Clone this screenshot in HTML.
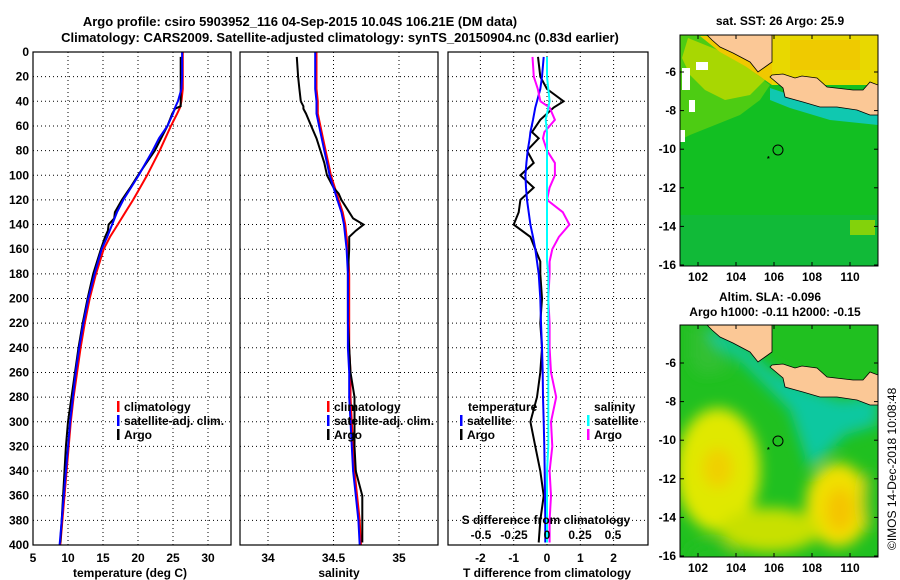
<!DOCTYPE html>
<html><head><meta charset="utf-8"><style>
html,body{margin:0;padding:0;background:#fff;}
svg{display:block;font-family:"Liberation Sans",sans-serif;font-weight:bold;}
</style></head><body>
<svg id="fig" width="900" height="580" viewBox="0 0 900 580" xmlns="http://www.w3.org/2000/svg">
<defs>
<filter id="blur8" x="-50%" y="-50%" width="200%" height="200%"><feGaussianBlur stdDeviation="7"/></filter>
<clipPath id="clipM1"><rect x="680" y="35" width="198" height="231"/></clipPath>
<clipPath id="clipM2"><rect x="680" y="325" width="198" height="232"/></clipPath>
</defs>
<text x="300" y="26" font-size="13" text-anchor="middle">Argo profile: csiro 5903952_116 04-Sep-2015 10.04S 106.21E (DM data)</text>
<text x="340" y="42" font-size="13" text-anchor="middle">Climatology: CARS2009. Satellite-adjusted climatology: synTS_20150904.nc (0.83d earlier)</text>

<g id="p1"></g>
<g id="p2"></g>
<g id="p3"></g>

<!-- Map 1: SST -->
<text x="780" y="25" font-size="12" text-anchor="middle">sat. SST: 26 Argo: 25.9</text>
<g clip-path="url(#clipM1)">
  <rect x="680" y="35" width="198" height="231" fill="#12bf22"/>
  <rect x="680" y="215" width="198" height="51" fill="#10b848" opacity="0.6"/>
  <polygon points="680,35 705,35 770,85 760,100 740,115 715,125 690,135 680,140" fill="#5ccf10" opacity="0.8"/>
  <polygon points="688,38 730,55 765,80 750,95 725,100 705,90 690,75 682,58" fill="#b8d800" opacity="0.85"/>
  <polygon points="700,36 772,36 772,85 745,66 720,52" fill="#f0c800"/>
  <rect x="772" y="35" width="106" height="50" fill="#e8d800"/>
  <rect x="790" y="40" width="70" height="30" fill="#f2c400" opacity="0.7"/>
  <polygon points="770,88 800,98 840,108 878,112 878,125 830,120 790,108 770,100" fill="#10c8b0"/>
  <rect x="682" y="68" width="8" height="22" fill="#fff"/>
  <rect x="689" y="100" width="6" height="12" fill="#fff"/>
  <rect x="680" y="130" width="5" height="12" fill="#fff"/>
  <rect x="696" y="62" width="12" height="8" fill="#fff"/>
  <rect x="850" y="220" width="25" height="15" fill="#a0d800" opacity="0.8"/>
  <rect x="700" y="265" width="30" height="0" fill="#0c8"/>
  <g transform="translate(680,35)">
    <polygon points="27,0 92,0 92,27 85,32 78,37 70,27 53,18 40,12 32,5" fill="#fbc896" stroke="#000" stroke-width="0.8"/>
    <polygon points="90,42 103,53 105,62 123,67 140,72 157,72 177,75 190,80 198,80 198,50 190,47 183,55 173,55 147,52 137,43 122,41 115,43 103,39 92,40" fill="#fbc896" stroke="#000" stroke-width="0.8"/>
  </g>
</g>
<rect x="680" y="35" width="198" height="231" fill="none" stroke="#000"/>

<!-- Map 2: SLA -->
<text x="770" y="301" font-size="12" text-anchor="middle">Altim. SLA: -0.096</text>
<text x="775" y="316" font-size="12" text-anchor="middle">Argo h1000: -0.11 h2000: -0.15</text>
<g clip-path="url(#clipM2)">
  <rect x="680" y="325" width="198" height="232" fill="#20c020"/>
  <g filter="url(#blur8)">
    <polygon points="690,330 715,345 740,360 765,385 790,410 800,440 810,470 825,455 845,435 878,425 878,395 840,400 800,385 770,370 750,350 720,330" fill="#10c8a0"/>
    <polygon points="690,325 705,325 730,370 700,375 690,360" fill="#30c030"/>
    <ellipse cx="718" cy="470" rx="42" ry="62" fill="#e0e800"/>
    <ellipse cx="718" cy="468" rx="15" ry="20" fill="#f0d000"/>
    <ellipse cx="838" cy="505" rx="32" ry="42" fill="#f0e000"/>
    <ellipse cx="840" cy="510" rx="14" ry="22" fill="#f4c400"/>
    <ellipse cx="770" cy="530" rx="50" ry="22" fill="#c8e000"/>
    <ellipse cx="712" cy="556" rx="26" ry="14" fill="#20c020"/>
    <ellipse cx="870" cy="500" rx="8" ry="30" fill="#30c020"/>
  </g>
  <g transform="translate(680,325)">
    <polygon points="27,0 92,0 92,27 85,32 78,37 70,27 53,18 40,12 32,5" fill="#fbc896" stroke="#000" stroke-width="0.8"/>
    <polygon points="90,42 103,53 105,62 123,67 140,72 157,72 177,75 190,80 198,80 198,50 190,47 183,55 173,55 147,52 137,43 122,41 115,43 103,39 92,40" fill="#fbc896" stroke="#000" stroke-width="0.8"/>
  </g>
</g>
<rect x="680" y="325" width="198" height="232" fill="none" stroke="#000"/>
<g id="maps"></g>
<text transform="translate(896,550) rotate(-90)" font-size="12" font-weight="normal">©IMOS 14-Dec-2018 10:08:48</text>
</svg>
<script>
// ---------- data ----------
const depthT = [0,20,30,40,45,50,60,70,80,90,100,110,120,130,140,150,160,180,200,220,240,260,280,300,320,340,360,380,400];
const climT = [26.4,26.4,26.4,26.2,26.0,25.6,24.7,23.9,23.1,22.2,21.3,20.3,19.3,18.2,17.1,16.0,15.1,14.0,13.1,12.4,11.8,11.3,10.8,10.4,10.1,9.8,9.5,9.2,8.9];
const satT = [26.3,26.3,26.2,25.7,25.3,25.0,24.2,23.0,22.1,21.1,20.1,19.0,17.9,17.0,16.3,15.6,14.8,13.8,12.9,12.2,11.6,11.1,10.7,10.3,10.0,9.7,9.4,9.1,8.8];
const argoDepth = [4,20,30,40,44,46,50,60,70,80,90,100,110,115,120,130,135,140,145,150,160,180,200,220,240,260,280,300,320,340,360,380,398];
const argoT = [26.1,26.1,26.1,26.1,26.1,25.3,24.9,24.2,23.3,22.4,21.2,20.0,18.9,18.3,17.7,16.7,16.6,15.8,15.7,15.3,14.7,13.6,12.8,12.1,11.5,11.0,10.5,10.0,9.7,9.5,9.3,9.1,8.9];
const climS = [34.37,34.37,34.37,34.38,34.38,34.38,34.40,34.42,34.44,34.46,34.48,34.51,34.54,34.57,34.59,34.60,34.61,34.62,34.62,34.62,34.62,34.63,34.63,34.64,34.65,34.66,34.68,34.70,34.71];
const satS = [34.36,34.36,34.36,34.37,34.37,34.37,34.39,34.41,34.43,34.45,34.47,34.50,34.53,34.56,34.58,34.59,34.60,34.61,34.61,34.61,34.61,34.62,34.62,34.63,34.64,34.65,34.67,34.69,34.70];
const argoS = [34.22,34.23,34.24,34.25,34.27,34.27,34.29,34.33,34.37,34.40,34.43,34.45,34.50,34.54,34.56,34.62,34.65,34.73,34.67,34.62,34.62,34.61,34.61,34.61,34.62,34.63,34.66,34.66,34.66,34.67,34.72,34.72,34.72];
const diffDepth = [4,20,30,40,45,55,65,70,80,90,100,110,120,130,140,150,160,170,180,200,220,240,260,280,300,320,340,360,380,398];
const argoDT = [-0.27,-0.2,0.0,0.5,0.2,-0.2,-0.45,-0.25,-0.6,-0.4,-0.8,-0.4,-0.8,-0.85,-1.0,-0.5,-0.35,-0.2,-0.2,-0.15,-0.2,-0.15,-0.2,-0.3,-0.5,-0.35,-0.2,-0.1,-0.2,-0.25];
const satDT = [-0.1,-0.15,-0.2,-0.3,-0.35,-0.42,-0.5,-0.52,-0.58,-0.62,-0.65,-0.63,-0.6,-0.55,-0.5,-0.42,-0.35,-0.3,-0.25,-0.2,-0.18,-0.15,-0.13,-0.12,-0.1,-0.08,-0.07,-0.06,-0.05,-0.05];
const argoDS = [-0.11,-0.1,-0.07,-0.05,0.02,0.06,-0.02,-0.03,0.0,0.06,0.06,0.02,0.0,0.12,0.17,0.09,0.04,0.02,0.02,0.01,0.02,0.02,0.03,0.07,0.03,0.04,0.02,0.03,0.02,0.02];
const satDS = [0.0,0.0,0.01,0.02,0.01,-0.01,0.0,0.0,0.0,0.0,0.0,0.0,0.0,0.0,0.0,0.0,0.0,0.0,0.01,0.01,0.01,0.01,0.01,0.01,0.01,0.01,0.0,0.0,0.0,0.0];
const depthTicks = [0,20,40,60,80,100,120,140,160,180,200,220,240,260,280,300,320,340,360,380,400];
const tempTicks = [5,10,15,20,25,30];
const salTicks = ["34","34.5","35"];
const tdTicks = ["-2","-1","0","1","2"];
const sdTicks = ["-0.5","-0.25","0","0.25","0.5"];
const lonTicks = [102,104,106,108,110];
const latTicks = [-6,-8,-10,-12,-14,-16];
const argoLon = 106.21, argoLat = -10.04;

// ---------- helpers ----------
const NS = "http://www.w3.org/2000/svg";
function mk(parent, tag, attrs, text){ const e=document.createElementNS(NS,tag); for(const k in attrs) e.setAttribute(k,attrs[k]); if(text!==undefined) e.textContent=text; parent.appendChild(e); return e; }
const Y0=52, Y1=545;
const yD = d => Y0 + d*(Y1-Y0)/400;
const xT = t => 33 + (t-5)*7;
const xS = s => 268 + (s-34)*131;
const xDT = d => 547 + d*33.3;
const xDS = d => 547 + d*132;

function frame(g, x0, x1){
  depthTicks.forEach(d=>{ if(d>0&&d<400){ const l=mk(g,'line',{x1:x0,x2:x1,y1:yD(d),y2:yD(d),stroke:'#000','stroke-width':1,'stroke-dasharray':'1,3'});
    
     } });
}
function vgrid(g, xs){ xs.forEach(x=>{ const l=mk(g,'line',{x1:x,x2:x,y1:Y0,y2:Y1,stroke:'#000','stroke-width':1,'stroke-dasharray':'1,3'});
  
   }); }
function box(g,x0,x1){ const r=mk(g,'rect',{x:x0,y:Y0,width:x1-x0,height:Y1-Y0,fill:'none',stroke:'#000','stroke-width':1.2});
  
   }
function line(g, xs, ys, fx, color, name){
  const pts = xs.map((v,i)=>fx(v).toFixed(1)+','+yD(ys[i]).toFixed(1)).join(' ');
  const p=mk(g,'polyline',{points:pts,fill:'none',stroke:color,'stroke-width':2,'stroke-linejoin':'miter'});
  
  
}
function legend(g, x, y, color, label){
  const r=mk(g,'rect',{x:x,y:y-10,width:2.5,height:11,fill:color});
  
  
  const t=mk(g,'text',{x:x+7,y:y,'font-size':12},label);
  
  
}
function label(g,x,y,txt,anchor,size,name){ const t=mk(g,'text',{x:x,y:y,'font-size':size||12,'text-anchor':anchor||'middle'},txt);
  
   return t; }

// ---------- panel 1 ----------
const p1=document.getElementById('p1');
frame(p1,33,231); vgrid(p1,tempTicks.slice(1).map(xT));
depthTicks.forEach(d=>label(p1,29,yD(d)+4,String(d),'end',12,'depth-tick-label'));
tempTicks.forEach(t=>label(p1,xT(t),562,String(t),'middle',12,'temp-tick-label'));
label(p1,130,577,'temperature (deg C)','middle',12,'x-axis-title-temperature');
line(p1,climT,depthT,xT,'#ff0000','climatology-temp-line');
line(p1,argoT,argoDepth,xT,'#000000','argo-temp-line');
line(p1,satT,depthT,xT,'#0000ff','satellite-temp-line');
legend(p1,117,411,'#ff0000','climatology');
legend(p1,117,425,'#0000ff','satellite-adj. clim.');
legend(p1,117,439,'#000000','Argo');
box(p1,33,231);

// ---------- panel 2 ----------
const p2=document.getElementById('p2');
frame(p2,240,438); vgrid(p2,salTicks.map(s=>xS(parseFloat(s))));
salTicks.forEach(s=>label(p2,xS(parseFloat(s)),562,s,'middle',12,'salinity-tick-label'));
label(p2,339,577,'salinity','middle',12,'x-axis-title-salinity');
line(p2,climS,depthT,xS,'#ff0000','climatology-salinity-line');
line(p2,argoS,argoDepth,xS,'#000000','argo-salinity-line');
line(p2,satS,depthT,xS,'#0000ff','satellite-salinity-line');
legend(p2,327,411,'#ff0000','climatology');
legend(p2,327,425,'#0000ff','satellite-adj. clim.');
legend(p2,327,439,'#000000','Argo');
box(p2,240,438);

// ---------- panel 3 ----------
const p3=document.getElementById('p3');
frame(p3,448,648); vgrid(p3,tdTicks.map(t=>xDT(parseFloat(t))));
tdTicks.forEach(t=>label(p3,xDT(parseFloat(t)),562,t,'middle',12,'tdiff-tick-label'));
label(p3,547,577,'T difference from climatology','middle',12,'x-axis-title-tdiff');
line(p3,argoDT,diffDepth,xDT,'#000000','argo-tdiff-line');
line(p3,satDT,diffDepth,xDT,'#0000ff','satellite-tdiff-line');
line(p3,argoDS,diffDepth,xDS,'#ff00ff','argo-sdiff-line');
line(p3,satDS,diffDepth,xDS,'#00ffff','satellite-sdiff-line');
label(p3,546,524,'S difference from climatology','middle',12,'s-diff-axis-title');
sdTicks.forEach(s=>label(p3,xDS(parseFloat(s)),539,s,'middle',12,'sdiff-tick-label'));
label(p3,468,411,'temperature','start',12,'legend-temperature-heading');
legend(p3,460,425,'#0000ff','satellite');
legend(p3,460,439,'#000000','Argo');
label(p3,594,411,'salinity','start',12,'legend-salinity-heading');
legend(p3,587,425,'#00ffff','satellite');
legend(p3,587,439,'#ff00ff','Argo');
box(p3,448,648);

// ---------- map axes ----------
const mg=document.getElementById('maps');
function mapAxes(top, bottom, yLat){
  const xL = lon => 698 + (lon-102)*19;
  lonTicks.forEach(lon=>{
    const x=xL(lon);
    mk(mg,'line',{x1:x,x2:x,y1:bottom,y2:bottom-4,stroke:'#000'});
    mk(mg,'line',{x1:x,x2:x,y1:top,y2:top+4,stroke:'#000'});
    label(mg,x,bottom+15,String(lon),'middle',12,'lon-tick-label');
  });
  latTicks.forEach(lat=>{
    const y=yLat(lat);
    mk(mg,'line',{x1:680,x2:684,y1:y,y2:y,stroke:'#000'});
    mk(mg,'line',{x1:878,x2:874,y1:y,y2:y,stroke:'#000'});
    label(mg,676,y+4,String(lat),'end',12,'lat-tick-label');
  });
  const c=mk(mg,'circle',{cx:xL(argoLon),cy:yLat(argoLat),r:5,fill:'none',stroke:'#000','stroke-width':1});
  
  
  mk(mg,'text',{x:xL(argoLon)-11,y:yLat(argoLat)+11,'font-size':7},'*');
}
mapAxes(35,266,lat=>72+(-6-lat)*19.3);
mapAxes(325,557,lat=>363+(-6-lat)*19.3);
</script>
</body></html>
